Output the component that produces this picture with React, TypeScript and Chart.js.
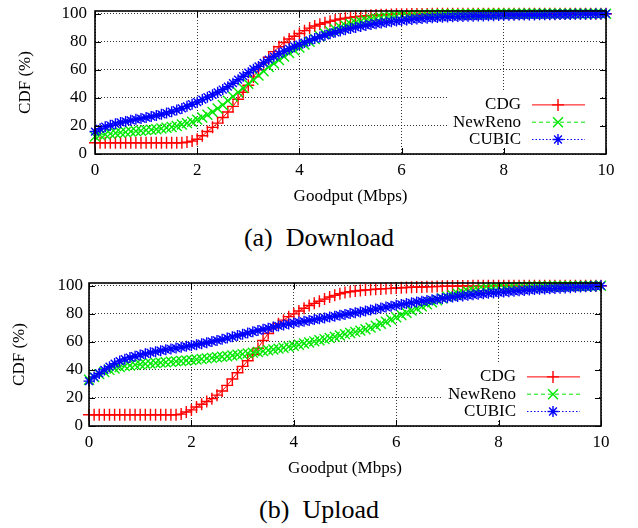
import React, { useEffect, useRef } from "react";
import { Chart, registerables } from "chart.js";

Chart.register(...registerables);

const FONT = "'Liberation Serif', 'Times New Roman', serif";

const GOODPUT = [
  0, 0.1, 0.2, 0.3, 0.4, 0.5, 0.6, 0.7, 0.8, 0.9,
  1, 1.1, 1.2, 1.3, 1.4, 1.5, 1.6, 1.7, 1.8, 1.9,
  2, 2.1, 2.2, 2.3, 2.4, 2.5, 2.6, 2.7, 2.8, 2.9,
  3, 3.1, 3.2, 3.3, 3.4, 3.5, 3.6, 3.7, 3.8, 3.9,
  4, 4.1, 4.2, 4.3, 4.4, 4.5, 4.6, 4.7, 4.8, 4.9,
  5, 5.1, 5.2, 5.3, 5.4, 5.5, 5.6, 5.7, 5.8, 5.9,
  6, 6.1, 6.2, 6.3, 6.4, 6.5, 6.6, 6.7, 6.8, 6.9,
  7, 7.1, 7.2, 7.3, 7.4, 7.5, 7.6, 7.7, 7.8, 7.9,
  8, 8.1, 8.2, 8.3, 8.4, 8.5, 8.6, 8.7, 8.8, 8.9,
  9, 9.1, 9.2, 9.3, 9.4, 9.5, 9.6, 9.7, 9.8, 9.9,
  10,
];

const X_TICKS = [0, 2, 4, 6, 8, 10];
const Y_TICKS = [0, 20, 40, 60, 80, 100];
const SERIES_NAMES = ["CDG", "NewReno", "CUBIC"];
const X_TITLE = "Goodput (Mbps)";
const Y_TITLE = "CDF (%)";
const CAPTIONS = ["(a)\u2002Download", "(b)\u2002Upload"];

// (a) Download
const DL_CDG = [
  8, 8, 8, 8, 8, 8, 8, 8, 8, 8,
  8, 8, 8, 8, 8, 8, 8, 8, 8.5, 9.2,
  10.5, 13, 16, 19, 22, 26, 30, 34, 39, 44,
  49, 55, 60, 65, 69, 73, 76.5, 79.5, 82, 84,
  86, 88, 89.8, 91.3, 92.5, 93.6, 94.6, 95.5, 96.3, 96.9,
  97.4, 97.9, 98.3, 98.6, 98.9, 99.1, 99.3, 99.4, 99.5, 99.6,
  99.7, 99.7, 99.8, 99.8, 99.9, 99.9, 100, 100, 100, 100,
  100, 100, 100, 100, 100, 100, 100, 100, 100, 100,
  100, 100, 100, 100, 100, 100, 100, 100, 100, 100,
  100, 100, 100, 100, 100, 100, 100, 100, 100, 100,
  100,
];
const DL_NEWRENO = [
  12.5, 13.5, 14, 14.5, 15, 15.3, 15.6, 16, 16.3, 16.6,
  17, 17.3, 17.7, 18.2, 18.7, 19.3, 20, 21, 22, 23,
  24.5, 26, 28, 30, 32.5, 35, 38, 41, 44, 47,
  50, 53, 56, 59, 62, 64.5, 67, 69.5, 72, 74,
  76, 78, 80, 82, 84, 85.8, 87.5, 89, 90.4, 91.6,
  92.7, 93.7, 94.6, 95.4, 96.1, 96.7, 97.2, 97.6, 98, 98.3,
  98.6, 98.8, 99, 99.2, 99.3, 99.4, 99.5, 99.6, 99.7, 99.7,
  99.8, 99.8, 99.8, 99.9, 99.9, 99.9, 99.9, 100, 100, 100,
  100, 100, 100, 100, 100, 100, 100, 100, 100, 100,
  100, 100, 100, 100, 100, 100, 100, 100, 100, 100,
  100,
];
const DL_CUBIC = [
  16, 18, 19.5, 20.5, 21.5, 22.5, 23.2, 24, 24.7, 25.3,
  26, 26.7, 27.5, 28.3, 29.2, 30.2, 31.3, 32.5, 34, 35.5,
  37, 38.8, 40.5, 42.2, 44, 46, 48, 50.5, 53, 55.5,
  58, 60.5, 62.5, 65, 67.3, 69.5, 71.5, 73.3, 75, 76.7,
  78, 79.5, 81, 82.3, 83.5, 84.7, 85.8, 86.8, 87.8, 88.7,
  89.5, 90.3, 91, 91.7, 92.3, 92.9, 93.4, 93.9, 94.4, 94.8,
  95.2, 95.6, 96, 96.3, 96.6, 96.9, 97.1, 97.3, 97.5, 97.7,
  97.9, 98, 98.1, 98.2, 98.3, 98.4, 98.5, 98.6, 98.7, 98.8,
  98.9, 99, 99, 99.1, 99.1, 99.2, 99.2, 99.3, 99.3, 99.4,
  99.4, 99.5, 99.5, 99.5, 99.6, 99.6, 99.7, 99.7, 99.8, 99.8,
  100,
];

// (b) Upload
const UL_CDG = [
  8, 8, 8, 8, 8, 8, 8, 8, 8, 8,
  8, 8, 8, 8, 8, 8, 8, 8, 8.5, 10,
  11.5, 13.5, 15.5, 17.5, 19.5, 22, 25, 29, 33.5, 38,
  42.5, 46.5, 51, 55.5, 61, 66, 70, 73, 75.5, 78,
  80, 82, 84, 86, 87.5, 89, 90.5, 92, 93.2, 94.3,
  95.2, 95.8, 96.3, 96.7, 97, 97.3, 97.6, 97.8, 98, 98.2,
  98.4, 98.6, 98.8, 99, 99.1, 99.2, 99.3, 99.4, 99.5, 99.6,
  99.7, 99.8, 99.8, 99.9, 99.9, 100, 100, 100, 100, 100,
  100, 100, 100, 100, 100, 100, 100, 100, 100, 100,
  100, 100, 100, 100, 100, 100, 100, 100, 100, 100,
  100,
];
const UL_NEWRENO = [
  33, 35, 37, 38.5, 40, 41, 42, 42.7, 43.2, 43.6,
  44, 44.3, 44.6, 44.9, 45.2, 45.5, 45.8, 46.1, 46.4, 46.7,
  47, 47.4, 47.8, 48.2, 48.6, 49, 49.4, 49.8, 50.3, 50.8,
  51.3, 51.8, 52.3, 52.8, 53.4, 54, 54.6, 55.2, 55.8, 56.5,
  57.2, 58, 58.8, 59.6, 60.4, 61.2, 62, 62.8, 63.7, 64.6,
  65.5, 66.3, 67.1, 68, 69, 70.2, 71.5, 72.9, 74.4, 76,
  77.6, 79.2, 80.8, 82.3, 83.8, 85.3, 86.8, 88.3, 89.7, 91,
  92.2, 93.3, 94.3, 95.2, 96, 96.6, 97.1, 97.5, 97.9, 98.2,
  98.5, 98.7, 98.9, 99.1, 99.2, 99.3, 99.4, 99.5, 99.6, 99.6,
  99.7, 99.7, 99.7, 99.8, 99.8, 99.8, 99.9, 99.9, 99.9, 99.9,
  100,
];
const UL_CUBIC = [
  32, 35, 37.5, 40, 42.3, 44.5, 46.3, 47.7, 48.8, 49.8,
  50.7, 51.5, 52.3, 53, 53.7, 54.4, 55, 55.6, 56.2, 56.8,
  57.4, 58, 58.7, 59.4, 60.2, 61, 61.8, 62.7, 63.6, 64.5,
  65.4, 66.3, 67.2, 68.1, 69, 69.8, 70.6, 71.4, 72.1, 72.8,
  73.5, 74.1, 74.7, 75.3, 75.9, 76.5, 77.1, 77.7, 78.3, 79,
  79.6, 80.2, 80.8, 81.4, 82, 82.7, 83.4, 84.1, 84.8, 85.5,
  86.1, 86.7, 87.3, 87.9, 88.5, 89, 89.5, 90, 90.5, 91,
  91.5, 92, 92.4, 92.8, 93.2, 93.6, 94, 94.3, 94.6, 94.9,
  95.2, 95.5, 95.8, 96.1, 96.4, 96.7, 97, 97.3, 97.5, 97.7,
  97.9, 98.1, 98.3, 98.5, 98.7, 98.9, 99.1, 99.3, 99.5, 99.7,
  100,
];

const STYLES = [
  { color: "#ff0000", dash: [] as number[], point: "cross", radius: 6 },
  { color: "#00e800", dash: [4, 3], point: "crossRot", radius: 7 },
  { color: "#0000ff", dash: [1.5, 2], point: "star", radius: 5.5 },
];

function drawMarker(ctx: CanvasRenderingContext2D, style: string, x: number, y: number, r: number) {
  ctx.beginPath();
  if (style === "cross" || style === "star") {
    ctx.moveTo(x - r, y);
    ctx.lineTo(x + r, y);
    ctx.moveTo(x, y - r);
    ctx.lineTo(x, y + r);
  }
  if (style === "crossRot" || style === "star") {
    const d = r * Math.SQRT1_2;
    ctx.moveTo(x - d, y - d);
    ctx.lineTo(x + d, y + d);
    ctx.moveTo(x - d, y + d);
    ctx.lineTo(x + d, y - d);
  }
  ctx.stroke();
}

const gnuFrame = {
  id: "gnuFrame",
  beforeDatasetsDraw(chart: any) {
    const { ctx, chartArea } = chart;
    const { right, bottom } = chartArea;
    ctx.save();
    ctx.fillStyle = "#ffffff";
    ctx.fillRect(right - 158, bottom - 62, 154, 56);
    ctx.restore();
  },
  afterDraw(chart: any) {
    const { ctx, chartArea, scales } = chart;
    const { left, right, top, bottom } = chartArea;
    ctx.save();
    ctx.strokeStyle = "#000";
    ctx.lineWidth = 1;
    ctx.setLineDash([]);
    ctx.beginPath();
    for (const v of X_TICKS) {
      const px = Math.round(scales.x.getPixelForValue(v)) + 0.5;
      ctx.moveTo(px, bottom);
      ctx.lineTo(px, bottom - 6);
      ctx.moveTo(px, top);
      ctx.lineTo(px, top + 6);
    }
    for (const v of Y_TICKS) {
      const py = Math.round(scales.y.getPixelForValue(v)) + 0.5;
      ctx.moveTo(left, py);
      ctx.lineTo(left + 6, py);
      ctx.moveTo(right, py);
      ctx.lineTo(right - 6, py);
    }
    ctx.stroke();
    ctx.lineWidth = 1.6;
    ctx.strokeRect(left, top, right - left, bottom - top);

    const n = chart.data.datasets.length;
    chart.data.datasets.forEach((ds: any, i: number) => {
      const st = STYLES[i];
      const y = bottom - 14.5 - (n - 1 - i) * 17.3;
      ctx.font = `17px ${FONT}`;
      ctx.fillStyle = "#000";
      ctx.textAlign = "right";
      ctx.textBaseline = "middle";
      ctx.fillText(ds.label, right - 85, y);
      ctx.strokeStyle = st.color;
      ctx.lineWidth = 1;
      ctx.setLineDash(st.dash);
      ctx.beginPath();
      ctx.moveTo(right - 74, y);
      ctx.lineTo(right - 21, y);
      ctx.stroke();
      ctx.setLineDash([]);
      ctx.lineWidth = 1.4;
      drawMarker(ctx, st.point, right - 48, y, st.radius);
    });
    ctx.restore();
  },
};

type Geom = { yWidth: number; padRight: number; yTickPad: number; yTitlePad: number };

function makeConfig(series: number[][], g: Geom): any {
  const datasets = series.map((vals, i) => {
    const st = STYLES[i];
    return {
      label: SERIES_NAMES[i],
      data: GOODPUT.map((x, k) => ({ x, y: vals[k] })),
      borderColor: st.color,
      backgroundColor: st.color,
      borderWidth: 1,
      borderDash: st.dash,
      pointStyle: st.point,
      pointRadius: st.radius,
      pointBorderWidth: 1.4,
      pointBorderColor: st.color,
      pointBackgroundColor: st.color,
      tension: 0,
      clip: false,
      order: 2 - i,
    };
  });
  const tickFont = { family: FONT, size: 17 };
  return {
    type: "line",
    data: { datasets },
    options: {
      animation: false,
      responsive: false,
      events: [],
      layout: { padding: { left: 0, right: g.padRight, top: 11, bottom: 0 } },
      plugins: { legend: { display: false }, tooltip: { enabled: false } },
      scales: {
        x: {
          type: "linear",
          min: 0,
          max: 10,
          afterBuildTicks: (s: any) => {
            s.ticks = X_TICKS.map((v) => ({ value: v }));
          },
          afterFit: (s: any) => {
            s.height = 61;
            s.paddingLeft = 0;
            s.paddingRight = 0;
            s.paddingTop = 0;
            s.paddingBottom = 0;
          },
          grid: { color: "rgba(0,0,0,0.8)", lineWidth: 1, drawTicks: false },
          border: { display: false, dash: [1, 2] },
          ticks: { font: tickFont, color: "#000", padding: 6, maxRotation: 0, autoSkip: false },
          title: {
            display: true,
            text: X_TITLE,
            font: tickFont,
            color: "#000",
            padding: { top: 0, bottom: 8 },
          },
        },
        y: {
          type: "linear",
          min: 0,
          max: 102,
          afterBuildTicks: (s: any) => {
            s.ticks = Y_TICKS.map((v) => ({ value: v }));
          },
          afterFit: (s: any) => {
            s.width = g.yWidth;
            s.paddingTop = 0;
            s.paddingBottom = 0;
            s.paddingLeft = 0;
            s.paddingRight = 0;
          },
          grid: { color: "rgba(0,0,0,0.8)", lineWidth: 1, drawTicks: false },
          border: { display: false, dash: [1, 2] },
          ticks: { font: tickFont, color: "#000", padding: g.yTickPad, autoSkip: false },
          title: {
            display: true,
            text: Y_TITLE,
            font: tickFont,
            color: "#000",
            padding: { top: g.yTitlePad, bottom: 0 },
          },
        },
      },
    },
    plugins: [gnuFrame],
  };
}

function CdfChart({ series, geom, top }: { series: number[][]; geom: Geom; top: number }) {
  const ref = useRef<HTMLCanvasElement | null>(null);
  useEffect(() => {
    if (!ref.current) return;
    const chart = new Chart(ref.current, makeConfig(series, geom));
    return () => chart.destroy();
  }, []);
  return (
    <canvas
      ref={ref}
      width={638}
      height={215}
      style={{ position: "absolute", left: 0, top, width: 638, height: 215 }}
    />
  );
}

export default function App() {
  const capStyle = (top: number): React.CSSProperties => ({
    position: "absolute",
    left: 0,
    top,
    width: 638,
    textAlign: "center",
    fontFamily: FONT,
    fontSize: 26,
    lineHeight: "30px",
    color: "#000",
    whiteSpace: "pre",
  });
  return (
    <div style={{ position: "absolute", left: 0, top: 0, width: 638, height: 528, background: "#fff" }}>
      <CdfChart
        series={[DL_CDG, DL_NEWRENO, DL_CUBIC]}
        geom={{ yWidth: 95, padRight: 32, yTickPad: 8, yTitlePad: 15 }}
        top={0}
      />
      <div style={capStyle(223)}>{CAPTIONS[0]}</div>
      <CdfChart
        series={[UL_CDG, UL_NEWRENO, UL_CUBIC]}
        geom={{ yWidth: 89, padRight: 37, yTickPad: 6, yTitlePad: 9 }}
        top={272}
      />
      <div style={capStyle(495)}>{CAPTIONS[1]}</div>
    </div>
  );
}
